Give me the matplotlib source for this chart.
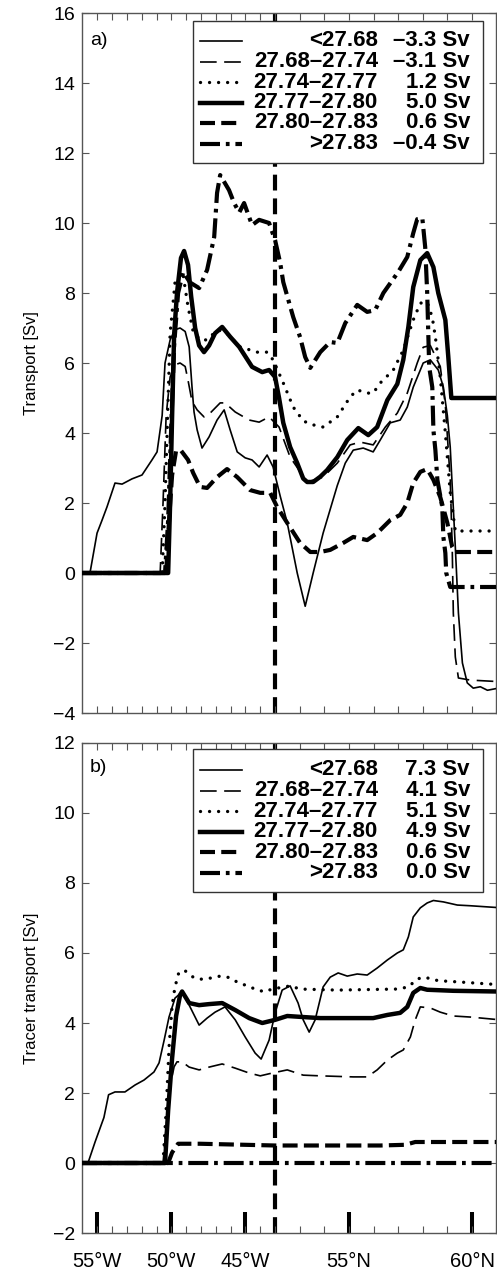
import numpy as np
import matplotlib.pyplot as plt
from matplotlib.lines import Line2D
from matplotlib.patches import Rectangle

plt.rcParams['font.family'] = ['Liberation Sans', 'DejaVu Sans']

# Section geometry: westward leg along the shelf, then north along 43W.
CORNER_KM = 872
KM_PER_DEG_LON = 66.9
KM_PER_DEG_LAT = 111.2
SECTION_END_KM = 1872

density_classes = ['<27.68', '27.68–27.74', '27.74–27.77',
                   '27.77–27.80', '27.80–27.83', '>27.83']
net_transport = [-3.3, -3.1, 1.2, 5.0, 0.6, -0.4]
net_tracer = [7.3, 4.1, 5.1, 4.9, 0.6, 0.0]

# (distance km, cumulative transport Sv), panel a
a_lt2768 = [(0, 0), (36, 0), (68, 1.14), (90, 1.5), (113, 1.89), (149, 2.57), (181, 2.54),
            (226, 2.69), (271, 2.8), (316, 3.23), (339, 3.46), (353, 4.09), (362, 4.5),
            (375, 6.0), (398, 6.66), (420, 6.95), (443, 7.0), (466, 6.9), (484, 6.46),
            (497, 5.3), (506, 4.6), (520, 4.09), (542, 3.57), (574, 3.89), (610, 4.37),
            (642, 4.66), (669, 4.09), (701, 3.46), (737, 3.29), (768, 3.23), (800, 3.03),
            (836, 3.37), (863, 3.03), (895, 2.2), (927, 1.43), (972, 0.0), (1008, -0.95),
            (1044, 0.0), (1089, 1.14), (1153, 2.5), (1189, 3.14), (1225, 3.51), (1270, 3.57),
            (1315, 3.46), (1347, 3.8), (1392, 4.29), (1437, 4.37), (1469, 4.74), (1496, 5.31),
            (1541, 6.0), (1573, 6.09), (1609, 5.8), (1632, 5.31), (1650, 4.5), (1663, 3.6),
            (1686, 0.74), (1700, -1.14), (1718, -2.57), (1740, -3.14), (1767, -3.29),
            (1799, -3.25), (1831, -3.35), (1872, -3.3)]
a_2768_2774 = [(0, 0), (353, 0), (366, 2.0), (380, 4.5), (398, 5.6), (420, 5.95), (443, 6.0),
               (466, 5.9), (479, 5.5), (497, 4.9), (520, 4.66), (551, 4.46), (579, 4.57),
               (624, 4.86), (646, 4.86), (692, 4.6), (755, 4.37), (800, 4.31), (845, 4.46),
               (890, 4.17), (940, 3.31), (1017, 2.6), (1089, 2.74), (1153, 3.14), (1211, 3.66),
               (1257, 3.74), (1315, 3.66), (1370, 4.17), (1424, 4.57), (1469, 5.14), (1514, 6.0),
               (1541, 6.45), (1573, 6.5), (1618, 5.9), (1641, 4.8), (1663, 2.66), (1672, 0.74),
               (1677, -1.14), (1686, -2.4), (1700, -3.0), (1754, -3.06), (1872, -3.1)]
a_2774_2777 = [(0, 0), (362, 0), (375, 2.0), (389, 5.0), (398, 6.86), (407, 7.43), (420, 8.3),
               (443, 8.6), (457, 8.5), (479, 7.6), (502, 6.9), (533, 6.66), (565, 6.66),
               (610, 6.94), (646, 6.9), (714, 6.46), (791, 6.31), (836, 6.31), (863, 6.09),
               (909, 5.43), (954, 4.74), (999, 4.35), (1031, 4.25), (1089, 4.17), (1153, 4.46),
               (1211, 5.03), (1243, 5.23), (1288, 5.14), (1315, 5.14), (1347, 5.43), (1406, 5.8),
               (1451, 6.37), (1496, 7.23), (1528, 7.71), (1559, 7.74), (1582, 7.3), (1596, 6.74),
               (1618, 5.6), (1641, 4.0), (1663, 2.3), (1686, 1.2), (1872, 1.2)]
a_2777_2780 = [(0, 0), (389, 0), (398, 2.0), (407, 4.5), (416, 6.8), (429, 8.0), (447, 9.0),
               (461, 9.2), (479, 8.8), (493, 7.9), (511, 7.0), (529, 6.5), (551, 6.31),
               (574, 6.5), (601, 6.85), (633, 7.03), (669, 6.75), (710, 6.46), (768, 5.89),
               (814, 5.74), (845, 5.8), (872, 5.6), (890, 5.0), (909, 4.29), (940, 3.6),
               (972, 3.14), (999, 2.7), (1017, 2.6), (1044, 2.6), (1076, 2.75), (1107, 2.94),
               (1153, 3.31), (1198, 3.8), (1248, 4.14), (1293, 3.94), (1333, 4.17), (1379, 4.94),
               (1424, 5.4), (1451, 6.09), (1474, 7.03), (1496, 8.17), (1528, 8.94), (1559, 9.14),
               (1587, 8.74), (1609, 8.0), (1641, 7.23), (1654, 6.2), (1668, 5.0), (1872, 5.0)]
a_2780_2783 = [(0, 0), (380, 0), (393, 1.5), (407, 2.8), (425, 3.5), (447, 3.5), (479, 3.23),
               (502, 2.86), (533, 2.46), (565, 2.43), (610, 2.74), (655, 2.97), (701, 2.74),
               (759, 2.37), (805, 2.29), (850, 2.29), (881, 1.89), (927, 1.43), (985, 0.86),
               (1031, 0.6), (1076, 0.6), (1121, 0.66), (1180, 0.86), (1225, 1.03), (1288, 0.94),
               (1333, 1.14), (1392, 1.51), (1437, 1.66), (1469, 2.0), (1496, 2.57), (1528, 2.89),
               (1559, 2.97), (1587, 2.66), (1618, 2.17), (1650, 1.43), (1672, 0.74), (1686, 0.6),
               (1872, 0.6)]
a_gt2783 = [(0, 0), (375, 0), (389, 1.5), (402, 4.0), (416, 6.5), (434, 8.0), (457, 8.6),
            (488, 8.3), (529, 8.14), (565, 8.66), (597, 9.6), (610, 10.86), (624, 11.37),
            (664, 10.94), (687, 10.57), (710, 10.3), (732, 10.57), (768, 9.94), (800, 10.09),
            (845, 10.0), (872, 9.51), (895, 8.86), (909, 8.31), (954, 7.31), (985, 6.74),
            (1008, 6.17), (1031, 5.86), (1076, 6.31), (1121, 6.6), (1153, 6.57), (1189, 7.14),
            (1243, 7.66), (1288, 7.46), (1324, 7.51), (1361, 8.0), (1428, 8.6), (1469, 9.03),
            (1496, 9.71), (1514, 10.11), (1537, 10.14), (1550, 9.31), (1559, 8.0), (1568, 5.89),
            (1582, 5.31), (1587, 4.09), (1596, 3.51), (1605, 2.66), (1627, 1.89), (1632, 1.03),
            (1641, 0.57), (1645, 0.0), (1663, -0.4), (1872, -0.4)]

# (distance km, cumulative tracer transport Sv), panel b
b_lt2768 = [(0, 0), (27, 0), (59, 0.6), (99, 1.3), (120, 1.95), (149, 2.03), (194, 2.03),
            (240, 2.23), (280, 2.37), (325, 2.6), (348, 2.86), (371, 3.51), (393, 4.17),
            (420, 4.71), (452, 4.89), (488, 4.46), (529, 3.94), (565, 4.14), (601, 4.31),
            (646, 4.46), (692, 4.09), (737, 3.6), (782, 3.14), (809, 2.97), (845, 3.51),
            (872, 4.29), (904, 4.94), (940, 5.06), (976, 4.57), (999, 4.09), (1026, 3.74),
            (1053, 4.09), (1089, 5.03), (1121, 5.31), (1157, 5.43), (1198, 5.34), (1243, 5.4),
            (1288, 5.37), (1333, 5.57), (1379, 5.8), (1424, 6.0), (1451, 6.09), (1474, 6.46),
            (1496, 7.03), (1528, 7.29), (1559, 7.43), (1587, 7.5), (1632, 7.46), (1695, 7.37),
            (1754, 7.35), (1872, 7.3)]
b_2768_2774 = [(0, 0), (366, 0), (380, 1.0), (398, 2.2), (416, 2.75), (429, 2.89), (452, 2.89),
               (484, 2.74), (529, 2.66), (574, 2.74), (633, 2.83), (692, 2.71), (755, 2.57),
               (805, 2.49), (859, 2.57), (927, 2.66), (999, 2.51), (1076, 2.49), (1225, 2.46),
               (1288, 2.46), (1333, 2.66), (1379, 2.94), (1424, 3.14), (1451, 3.23), (1483, 3.6),
               (1505, 4.09), (1528, 4.46), (1573, 4.43), (1618, 4.31), (1677, 4.2), (1754, 4.17),
               (1872, 4.1)]
b_2774_2777 = [(0, 0), (366, 0), (380, 1.5), (393, 3.3), (407, 4.5), (420, 5.03), (438, 5.46),
               (466, 5.49), (506, 5.29), (542, 5.25), (588, 5.29), (624, 5.34), (664, 5.3),
               (701, 5.17), (746, 5.06), (782, 4.97), (823, 4.89), (859, 4.97), (940, 5.06),
               (985, 4.97), (1153, 4.94), (1424, 4.97), (1474, 5.03), (1514, 5.26), (1550, 5.31),
               (1587, 5.23), (1632, 5.2), (1709, 5.17), (1872, 5.1)]
b_2777_2780 = [(0, 0), (375, 0), (389, 1.5), (407, 3.0), (425, 4.2), (443, 4.8), (452, 4.9),
               (484, 4.57), (529, 4.51), (574, 4.54), (633, 4.57), (692, 4.37), (755, 4.14),
               (814, 4.0), (872, 4.09), (927, 4.2), (999, 4.17), (1076, 4.14), (1315, 4.14),
               (1379, 4.23), (1437, 4.29), (1469, 4.46), (1496, 4.86), (1528, 5.0), (1559, 4.95),
               (1677, 4.92), (1872, 4.9)]
b_2780_2783 = [(0, 0), (389, 0), (407, 0.3), (434, 0.55), (533, 0.55), (872, 0.5), (1347, 0.5),
               (1460, 0.52), (1505, 0.6), (1872, 0.6)]
b_gt2783 = [(0, 0), (1872, 0)]

panel_a_series = [a_lt2768, a_2768_2774, a_2774_2777, a_2777_2780, a_2780_2783, a_gt2783]
panel_b_series = [b_lt2768, b_2768_2774, b_2774_2777, b_2777_2780, b_2780_2783, b_gt2783]

line_styles = [
    dict(lw=1.2, ls='-'),
    dict(lw=1.2, ls=(0, (10, 4.5))),
    dict(lw=2.4, ls=(0, (0.01, 2.7)), dash_capstyle='round'),
    dict(lw=3.2, ls='-'),
    dict(lw=3.0, ls=(0, (3.6, 1.5))),
    dict(lw=3.0, ls=(0, (4.8, 1.4, 0.9, 1.4))),
]

SPINE = '#555555'


def lon_km(lon_w):
    return CORNER_KM - (lon_w - 43) * KM_PER_DEG_LON


def lat_km(lat_n):
    return CORNER_KM + (lat_n - 52) * KM_PER_DEG_LAT


major_pos = [lon_km(55), lon_km(50), lon_km(45), lat_km(55), lat_km(60)]
major_labels = ['55°W', '50°W', '45°W', '55°N', '60°N']
minor_pos = [lon_km(d) for d in range(55, 42, -1)] + [lat_km(d) for d in range(53, 61)]


def fmt_sv(value):
    return f'{value:.1f} Sv'.replace('-', '–')


def draw_key(ax, values, box, row_top, row_step):
    # box = (x0, y0, x1, y1) in axes fraction
    x0, y0, x1, y1 = box
    ax.add_patch(Rectangle((x0, y0), x1 - x0, y1 - y0, transform=ax.transAxes,
                           facecolor='white', edgecolor='#333333', lw=1.0,
                           zorder=5, clip_on=False))
    for i, (name, value, style) in enumerate(zip(density_classes, values, line_styles)):
        y = row_top - i * row_step
        ax.add_line(Line2D([0.2847, 0.386], [y, y], color='k', transform=ax.transAxes,
                           zorder=6, clip_on=False, **style))
        ax.text(0.7141, y, name, transform=ax.transAxes, ha='right', va='center',
                fontsize=16, fontweight='bold', zorder=6)
        ax.text(0.936, y, fmt_sv(value), transform=ax.transAxes, ha='right', va='center',
                fontsize=16, fontweight='bold', zorder=6)


def style_axes(ax, yticks, ylabel):
    ax.set_xlim(0, SECTION_END_KM)
    ax.set_yticks(yticks)
    ax.set_ylim(yticks[0], yticks[-1])
    for side in ax.spines.values():
        side.set_color(SPINE)
        side.set_linewidth(1.0)
    ax.tick_params(axis='y', direction='in', length=5, width=0.8, color=SPINE,
                   left=True, right=True, labelsize=14, pad=5)
    ax.xaxis.remove_overlapping_locs = False
    ax.set_xticks(minor_pos, minor=True)
    ax.tick_params(axis='x', which='minor', direction='in', length=5, width=0.8,
                   color=SPINE, top=True, bottom=True)
    ax.set_ylabel(ylabel, fontsize=12, labelpad=10)
    ax.axvline(CORNER_KM, color='k', lw=3.0, ls=(0, (3.8, 1.9)), zorder=1)


fig = plt.figure(figsize=(4.97, 12.72), dpi=100)
ax_a = fig.add_axes([82 / 497, 1 - 713 / 1272, 414.5 / 497, 700 / 1272])
ax_b = fig.add_axes([82 / 497, 1 - 1233 / 1272, 414.5 / 497, 490 / 1272])

for ax, series in ((ax_a, panel_a_series), (ax_b, panel_b_series)):
    for pts, style in zip(series, line_styles):
        km, sv = np.array(pts).T
        ax.plot(km, sv, color='k', zorder=3, solid_joinstyle='round', **style)

style_axes(ax_a, np.arange(-4, 17, 2), 'Transport [Sv]')
ax_a.set_xticks([])

style_axes(ax_b, np.arange(-2, 13, 2), 'Tracer transport [Sv]')
ax_b.set_xticks(major_pos, major_labels)
ax_b.tick_params(axis='x', which='major', direction='in', length=15, width=2.9,
                 color='k', top=False, bottom=True, labelsize=14.5, pad=14)

ax_a.text(0.019, 0.9614, 'a)', transform=ax_a.transAxes, fontsize=14, va='center')
ax_b.text(0.019, 0.949, 'b)', transform=ax_b.transAxes, fontsize=14, va='center')

draw_key(ax_a, net_transport, (0.2678, 0.7857, 0.9674, 0.9886), 0.96, 20.5 / 700)
draw_key(ax_b, net_tracer, (0.2678, 0.6959, 0.9674, 0.9878), 0.9449, 20.6 / 490)

fig.savefig('out.png', dpi=100)
